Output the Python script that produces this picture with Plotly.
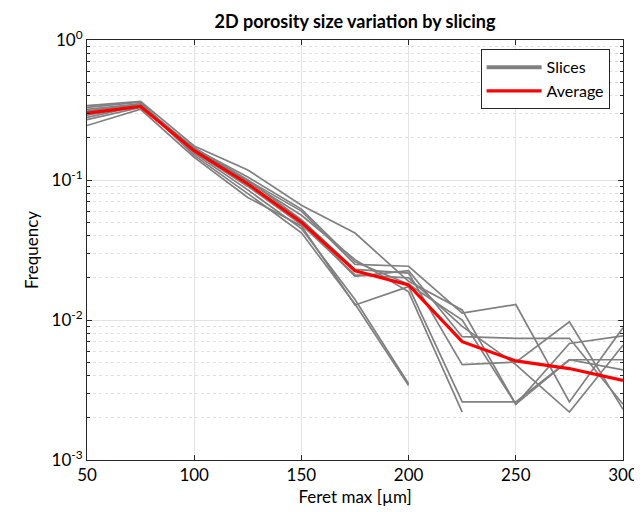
import plotly.graph_objects as go

feret = [50, 75, 100, 125, 150, 175, 200, 225, 250, 275, 300]

slices = [
    [0.33, 0.36, 0.155, 0.085, 0.045, 0.0140, 0.0035],
    [0.32, 0.35, 0.150, 0.080, 0.042, 0.0130, 0.0034],
    [0.29, 0.34, 0.160, 0.098, 0.056, 0.0270, 0.0159, 0.0022],
    [0.34, 0.365, 0.175, 0.118, 0.066, 0.0418, 0.0189, 0.0118, 0.0025, 0.0052, 0.0052],
    [0.31, 0.35, 0.165, 0.100, 0.060, 0.0250, 0.0242, 0.0112, 0.0129, 0.0026, 0.0088],
    [0.30, 0.34, 0.160, 0.092, 0.050, 0.0205, 0.0225, 0.0076, 0.0074, 0.0074, 0.0025],
    [0.245, 0.32, 0.145, 0.075, 0.047, 0.0128, 0.0173, 0.0026, 0.0026, 0.0052, 0.0044],
    [0.27, 0.33, 0.170, 0.100, 0.052, 0.0230, 0.0216, 0.0048, 0.0050, 0.0097, 0.0023],
    [0.28, 0.34, 0.158, 0.090, 0.048, 0.0210, 0.0200, 0.0090, 0.0048, 0.0022, 0.0066],
    [0.30, 0.345, 0.168, 0.105, 0.062, 0.0260, 0.0180, 0.0100, 0.0025, 0.0068, 0.0077],
]

average = [0.30, 0.335, 0.162, 0.094, 0.050, 0.0225, 0.0178, 0.0070, 0.0051, 0.0045, 0.0037]

x_ticks = [50, 100, 150, 200, 250, 300]
y_ticks = [1e-3, 1e-2, 1e-1, 1]
y_ticktext = ["10<sup>-3</sup>", "10<sup>-2</sup>", "10<sup>-1</sup>", "10<sup>0</sup>"]
y_minor = [m * d for d in (1e-3, 1e-2, 1e-1) for m in range(2, 10)]

FONT = "Lato, 'Open Sans', sans-serif"

fig = go.Figure()
for s in slices:
    fig.add_trace(go.Scatter(
        x=feret[:len(s)], y=s, mode="lines",
        line=dict(color="#808080", width=1.7),
        name="Slices", legendgroup="slices", showlegend=False,
        hoverinfo="skip",
    ))
# legend-only entry with MATLAB-like thicker sample line
fig.add_trace(go.Scatter(
    x=[None], y=[None], mode="lines",
    line=dict(color="#808080", width=4),
    name="Slices", legendgroup="slices", showlegend=True,
))
fig.add_trace(go.Scatter(
    x=feret, y=average, mode="lines",
    line=dict(color="#ff0000", width=3.2),
    name="Average", hoverinfo="skip",
))

fig.update_layout(
    width=642, height=512,
    margin=dict(l=79, r=25, t=32, b=60),
    paper_bgcolor="white", plot_bgcolor="white",
    font=dict(family=FONT, size=17, color="#262626"),
    title=dict(text="<b>2D porosity size variation by slicing</b>",
               x=0.5, xref="paper", xanchor="center",
               y=1 - 14 / 512, yref="container", yanchor="middle",
               font=dict(size=18, color="#000000")),
    showlegend=True,
    legend=dict(x=0.975, y=0.978, xanchor="right", yanchor="top",
                bgcolor="white", bordercolor="#262626", borderwidth=1,
                font=dict(size=16, color="#000000"),
                tracegroupgap=0, itemwidth=55),
)

fig.update_xaxes(
    range=[50, 300], tickvals=x_ticks,
    showline=True, linecolor="#262626", linewidth=1, mirror="ticks",
    ticks="inside", ticklen=5, tickcolor="#262626",
    showgrid=True, gridcolor="#e3e3e3", gridwidth=1,
    zeroline=False,
    title=dict(text="Feret max [µm]", font=dict(size=17, color="#000000"), standoff=6),
    tickfont=dict(size=17, color="#000000"),
)
fig.update_yaxes(
    type="log", range=[-3, 0], tickvals=y_ticks, ticktext=y_ticktext,
    showline=True, linecolor="#262626", linewidth=1, mirror="ticks",
    ticks="inside", ticklen=5, tickcolor="#262626",
    showgrid=True, gridcolor="#e3e3e3", gridwidth=1,
    zeroline=False,
    minor=dict(tickmode="array", tickvals=y_minor,
               ticks="inside", ticklen=3, tickcolor="#262626",
               showgrid=True, gridcolor="#e0e0e0", griddash="dot", gridwidth=1),
    title=dict(text="Frequency", font=dict(size=17, color="#000000"), standoff=8),
    tickfont=dict(size=17, color="#000000"),
)

fig.write_html("out.html")
